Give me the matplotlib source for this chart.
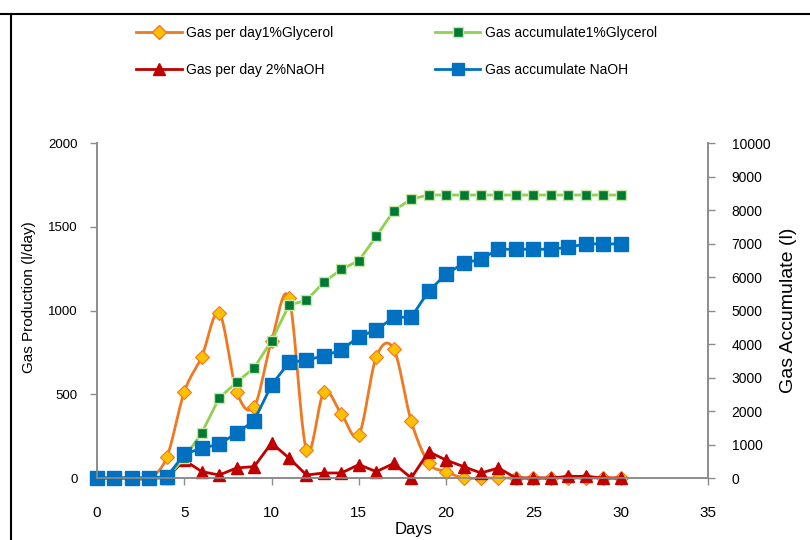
import matplotlib
matplotlib.use("Agg")
import matplotlib.pyplot as plt
from matplotlib.lines import Line2D
import numpy as np

plt.rcParams["font.family"] = ["Liberation Sans", "DejaVu Sans"]

days = list(range(0, 31))
gly_day = [0, 0, 0, 0, 125, 515, 725, 985, 515, 425, 820, 1075, 167, 513, 382, 257,
           724, 770, 340, 90, 38, 0, 0, 0, 0, 0, 0, 0, 0, 0, 0]
naoh_day = [0, 0, 0, 0, 0, 107, 38, 18, 60, 68, 209, 119, 18, 30, 30, 80,
            38, 87, 0, 157, 107, 68, 30, 60, 0, 0, 0, 10, 10, 0, 0]
gly_acc = [0, 0, 0, 0, 0, 600, 1350, 2390, 2860, 3290, 4100, 5160, 5310, 5850, 6230, 6490,
           7220, 7980, 8330, 8450, 8450, 8450, 8450, 8450, 8450, 8450, 8450, 8450, 8450, 8450, 8450]
naoh_acc = [0, 0, 0, 0, 40, 710, 890, 1010, 1340, 1710, 2780, 3450, 3520, 3650, 3820, 4220,
            4420, 4800, 4800, 5580, 6090, 6410, 6540, 6830, 6830, 6830, 6830, 6890, 6990, 6990, 6990]


def smooth(x, y, n=20):
    # Excel-like smoothed line: cubic Bezier segments with Catmull-Rom control points
    x = np.asarray(x, float)
    y = np.asarray(y, float)
    p = np.column_stack([x, y])
    pts = []
    t = np.linspace(0, 1, n)[:, None]
    for i in range(len(p) - 1):
        p0 = p[i - 1] if i > 0 else p[i]
        p3 = p[i + 2] if i + 2 < len(p) else p[i + 1]
        c1 = p[i] + (p[i + 1] - p0) / 6
        c2 = p[i + 1] - (p3 - p[i]) / 6
        seg = ((1 - t) ** 3) * p[i] + 3 * ((1 - t) ** 2) * t * c1 + 3 * (1 - t) * t ** 2 * c2 + t ** 3 * p[i + 1]
        pts.append(seg if i == 0 else seg[1:])
    s = np.vstack(pts)
    return s[:, 0], s[:, 1]


fig = plt.figure(figsize=(8.1, 5.4), dpi=100)
ax = fig.add_axes([0.1198, 0.1148, 0.874 - 0.1198, 0.735 - 0.1148])
ax2 = ax.twinx()

ORANGE = "#F07820"
RED = "#C00000"
LGREEN = "#92D050"
DGREEN = "#007A33"
BLUE = "#0070C0"

sx, sy = smooth(days, gly_day)
ax.plot(sx, sy, color=ORANGE, lw=2, zorder=2, clip_on=False)
ax.plot(days, gly_day, ls="none", marker="D", ms=7, mfc="#FFC000", mec=ORANGE, mew=0.8,
        zorder=3, clip_on=False)
ax.plot(days, naoh_day, color=RED, lw=2, marker="^", ms=9, mfc=RED, mec=RED, zorder=4,
        clip_on=False)

ax2.plot(days, gly_acc, color=LGREEN, lw=2, marker="s", ms=7, mfc=DGREEN, mec="#C8E6A8",
         mew=1, clip_on=False)
ax2.plot(days, naoh_acc, color=BLUE, lw=2, marker="s", ms=10, mfc=BLUE, mec=BLUE,
         clip_on=False)

ax.set_xlim(0, 35)
ax.set_ylim(0, 2000)
ax2.set_ylim(0, 10000)
ax.set_xticks(range(0, 36, 5))
ax.set_yticks(range(0, 2001, 500))
ax2.set_yticks(range(0, 10001, 1000))

for a in (ax, ax2):
    a.spines["top"].set_visible(False)
    for s in ("left", "right", "bottom"):
        a.spines[s].set_color("#8C8C8C")
        a.spines[s].set_linewidth(1.2)
    a.tick_params(direction="out", color="#8C8C8C", width=1, length=5)
ax.tick_params(axis="y", labelsize=9.5, pad=9)
ax.tick_params(axis="x", labelsize=11, pad=15)
ax2.tick_params(axis="y", labelsize=10, pad=12)

ax.set_xlabel("Days", fontsize=12)
ax.xaxis.set_label_coords(0.519, -0.13)
ax.set_ylabel("Gas Production (l/day)", fontsize=11)
ax.yaxis.set_label_coords(-0.10, 0.54)
ax2.set_ylabel("Gas Accumulate (l)", fontsize=14, labelpad=7)

handles = [
    Line2D([], [], color=ORANGE, lw=2, marker="D", ms=7, mfc="#FFC000", mec=ORANGE),
    Line2D([], [], color=RED, lw=2, marker="^", ms=9, mfc=RED, mec=RED),
    Line2D([], [], color=LGREEN, lw=2, marker="s", ms=7, mfc=DGREEN, mec="#C8E6A8"),
    Line2D([], [], color=BLUE, lw=2, marker="s", ms=9, mfc=BLUE, mec=BLUE),
]
labels = ["Gas per day1%Glycerol", "Gas per day 2%NaOH",
          "Gas accumulate1%Glycerol", "Gas accumulate NaOH"]
fig.legend(handles, labels, ncol=2, loc="upper left", bbox_to_anchor=(0.153, 0.975),
           frameon=False, fontsize=10, handlelength=3.25, handletextpad=0.35,
           labelspacing=1.65, columnspacing=7.3)

# outer frame lines from the source figure
fig.add_artist(Line2D([0, 1], [0.974, 0.974], color="black", lw=1.5, transform=fig.transFigure))
fig.add_artist(Line2D([0.013, 0.013], [0, 0.974], color="black", lw=1.5, transform=fig.transFigure))

fig.savefig("out.png", dpi=100)
